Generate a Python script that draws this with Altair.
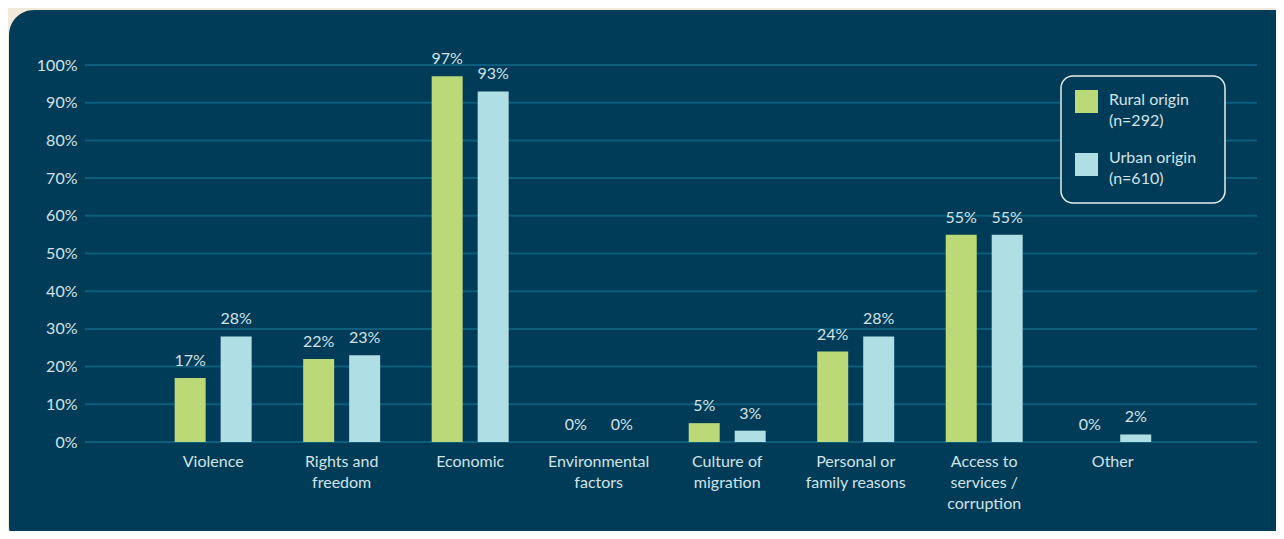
import altair as alt
import pandas as pd

# ---- data ----
categories = [
    "Violence",
    "Rights and|freedom",
    "Economic",
    "Environmental|factors",
    "Culture of|migration",
    "Personal or|family reasons",
    "Access to|services /|corruption",
    "Other",
]
series = ["Rural origin", "Urban origin"]
series_n = ["(n=292)", "(n=610)"]
rural = [17, 22, 97, 0, 5, 24, 55, 0]
urban = [28, 23, 93, 0, 3, 28, 55, 2]
y_ticks = list(range(0, 101, 10))

# ---- style ----
CREAM = "#f1eada"
PANEL = "#003c57"
GRID = "#0d5d7c"
TEXT = "#d2e2e7"
GREEN = "#bcd977"
BLUE = "#b0dee5"
FONT = "Lato"
FS = 16

W, H = 1172, 377

rows = []
for c, r, u in zip(categories, rural, urban):
    rows.append({"cat": c, "origin": series[0], "value": r, "lab": f"{r}%"})
    rows.append({"cat": c, "origin": series[1], "value": u, "lab": f"{u}%"})
df = pd.DataFrame(rows)
tick_df = pd.DataFrame({"t": y_ticks})
one = pd.DataFrame({"a": [0]})

yscale = alt.Scale(domain=[0, 100], nice=False, zero=True)
xscale = alt.Scale(paddingInner=0, paddingOuter=0.56, align=0.444)
yaxis = alt.Axis(
    values=y_ticks,
    labelExpr="datum.value + '%'",
    labelPadding=8,
    labelOverlap=False,
    labelFlush=False,
    grid=False,
    domain=False,
    ticks=False,
    zindex=2,
)

panel = alt.Chart(one).mark_rect(color=PANEL, cornerRadius=25).encode(
    x=alt.value(-76), x2=alt.value(1300), y=alt.value(-55), y2=alt.value(486)
)

grid = alt.Chart(tick_df).mark_rule(color=GRID, strokeWidth=2).encode(
    y=alt.Y("t:Q", scale=yscale, title=None, axis=yaxis),
    x=alt.value(0),
    x2=alt.value(W),
)

base = alt.Chart(df).encode(
    x=alt.X(
        "cat:N",
        sort=categories,
        scale=xscale,
        title=None,
        axis=alt.Axis(
            labelExpr="split(datum.label, '|')",
            labelAngle=0,
            labelBaseline="top",
            labelPadding=11,
            labelLineHeight=21,
            labelLimit=300,
            labelOverlap=False,
            domain=False,
            ticks=False,
            grid=False,
            zindex=2,
        ),
    ),
    xOffset=alt.XOffset(
        "origin:N", sort=series, scale=alt.Scale(paddingInner=0.326, paddingOuter=0.56)
    ),
    y=alt.Y("value:Q", scale=yscale, title=None, axis=yaxis),
)

bars = base.mark_bar().encode(
    color=alt.Color(
        "origin:N", scale=alt.Scale(domain=series, range=[GREEN, BLUE]), legend=None
    )
)

vals = base.mark_text(
    dy=-12, baseline="alphabetic", font=FONT, fontSize=FS, color=TEXT
).encode(text="lab:N")

# ---- legend ----
leg_box = alt.Chart(one).mark_rect(
    fill=PANEL, stroke="#e4ecef", strokeWidth=1.5, cornerRadius=12
).encode(x=alt.value(976), x2=alt.value(1140), y=alt.value(11), y2=alt.value(138))

leg_sw1 = alt.Chart(one).mark_rect(color=GREEN).encode(
    x=alt.value(990), x2=alt.value(1013), y=alt.value(25), y2=alt.value(48)
)
leg_sw2 = alt.Chart(one).mark_rect(color=BLUE).encode(
    x=alt.value(990), x2=alt.value(1013), y=alt.value(88), y2=alt.value(111)
)
leg_t1 = alt.Chart(one).mark_text(
    align="left", baseline="top", lineHeight=21, font=FONT, fontSize=FS, color=TEXT
).encode(x=alt.value(1024), y=alt.value(27), text=alt.value([series[0], series_n[0]]))
leg_t2 = alt.Chart(one).mark_text(
    align="left", baseline="top", lineHeight=21, font=FONT, fontSize=FS, color=TEXT
).encode(x=alt.value(1024), y=alt.value(85), text=alt.value([series[1], series_n[1]]))

chart = (
    alt.layer(panel, grid, bars, vals, leg_box, leg_sw1, leg_sw2, leg_t1, leg_t2)
    .properties(
        width=W,
        height=H,
        autosize=alt.AutoSizeParams(type="none"),
        padding={"left": 77, "top": 57, "right": 19, "bottom": 89},
        background=CREAM,
    )
    .configure_view(stroke=None)
    .configure_axis(labelFont=FONT, labelFontSize=FS, labelColor=TEXT)
    .configure_axisY(labelOverlap=False)
)

chart.save("out.html", embed_options={"renderer": "svg", "actions": False})
